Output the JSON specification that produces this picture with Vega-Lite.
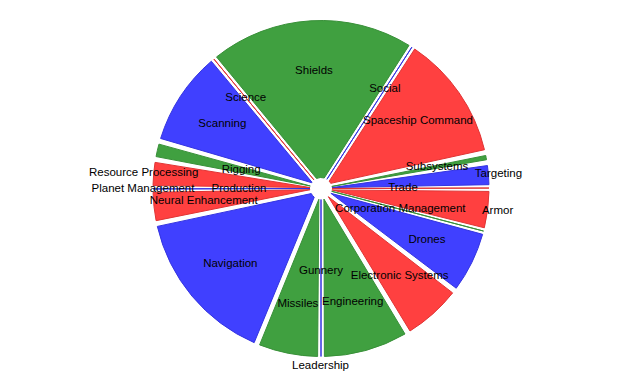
{
  "$schema": "https://vega.github.io/schema/vega-lite/v6.json",
  "width": 642,
  "height": 377,
  "autosize": {"type": "fit", "contains": "padding"},
  "padding": 0,
  "background": "white",
  "config": {"view": {"stroke": "#666666", "strokeWidth": 2}},
  "data": {
    "values": [
      {"name": "Armor", "value": 14.6},
      {"name": "Corporation Management", "value": 0.3},
      {"name": "Drones", "value": 22.7},
      {"name": "Electronic Systems", "value": 21.7},
      {"name": "Engineering", "value": 31.0},
      {"name": "Gunnery", "value": 0.3},
      {"name": "Leadership", "value": 0},
      {"name": "Missiles", "value": 22.4},
      {"name": "Navigation", "value": 55.8},
      {"name": "Neural Enhancement", "value": 11.8},
      {"name": "Planet Management", "value": 0},
      {"name": "Production", "value": 0.3},
      {"name": "Resource Processing", "value": 10.0},
      {"name": "Rigging", "value": 6.4},
      {"name": "Scanning", "value": 34.1},
      {"name": "Science", "value": 0.3},
      {"name": "Shields", "value": 72.4},
      {"name": "Social", "value": 0.3},
      {"name": "Spaceship Command", "value": 45.0},
      {"name": "Subsystems", "value": 3.5},
      {"name": "Targeting", "value": 8.6},
      {"name": "Trade", "value": 0.3}
    ]
  },
  "transform": [
    {"stack": "value", "groupby": [], "sort": [{"field": "name", "order": "ascending"}], "as": ["v0", "v1"]},
    {"calculate": "(datum.v0 + datum.v1) / 2", "as": "mid"}
  ],
  "layer": [
    {
      "transform": [{"filter": "datum.value > 0"}],
      "mark": {"type": "arc", "outerRadius": 168, "innerRadius": 11, "padAngle": 0.035, "strokeWidth": 1},
      "encoding": {
        "theta": {"field": "v0", "type": "quantitative", "scale": {"domain": [0, 361.8], "range": [1.5708, 7.85398]}},
        "theta2": {"field": "v1"},
        "color": {
          "field": "name", "type": "nominal", "legend": null,
          "scale": {
            "domain": ["Armor","Corporation Management","Drones","Electronic Systems","Engineering","Gunnery","Leadership","Missiles","Navigation","Neural Enhancement","Planet Management","Production","Resource Processing","Rigging","Scanning","Science","Shields","Social","Spaceship Command","Subsystems","Targeting","Trade"],
            "range": ["#FF4040","#40A040","#4040FF","#FF4040","#40A040","#4040FF","#FF4040","#40A040","#4040FF","#FF4040","#40A040","#4040FF","#FF4040","#40A040","#4040FF","#FF4040","#40A040","#4040FF","#FF4040","#40A040","#4040FF","#FF4040"]
          }
        },
        "stroke": {
          "field": "name", "type": "nominal", "legend": null,
          "scale": {
            "domain": ["Armor","Corporation Management","Drones","Electronic Systems","Engineering","Gunnery","Leadership","Missiles","Navigation","Neural Enhancement","Planet Management","Production","Resource Processing","Rigging","Scanning","Science","Shields","Social","Spaceship Command","Subsystems","Targeting","Trade"],
            "range": ["#E03434","#389038","#3434E0","#E03434","#389038","#3434E0","#E03434","#389038","#3434E0","#E03434","#389038","#3434E0","#E03434","#389038","#3434E0","#E03434","#389038","#3434E0","#E03434","#389038","#3434E0","#E03434"]
          }
        }
      }
    },
    {
      "transform": [{"filter": "indexof(['Rigging','Production','Trade','Corporation Management','Gunnery'], datum.name) < 0 && indexof(['Planet Management','Resource Processing','Targeting','Armor','Leadership'], datum.name) < 0"}],
      "mark": {"type": "text", "radius": 118, "font": "Liberation Sans", "fontSize": 11.5, "color": "black"},
      "encoding": {
        "theta": {"field": "mid", "type": "quantitative"},
        "text": {"field": "name"}
      }
    },
    {
      "transform": [{"filter": "indexof(['Rigging','Production','Trade','Corporation Management','Gunnery'], datum.name) >= 0"}],
      "mark": {"type": "text", "radius": 82, "font": "Liberation Sans", "fontSize": 11.5, "color": "black"},
      "encoding": {
        "theta": {"field": "mid", "type": "quantitative"},
        "text": {"field": "name"}
      }
    },
    {
      "transform": [{"filter": "indexof(['Planet Management','Resource Processing','Targeting','Armor','Leadership'], datum.name) >= 0"}],
      "mark": {"type": "text", "radius": 178, "font": "Liberation Sans", "fontSize": 11.5, "color": "black"},
      "encoding": {
        "theta": {"field": "mid", "type": "quantitative"},
        "text": {"field": "name"}
      }
    }
  ]
}
